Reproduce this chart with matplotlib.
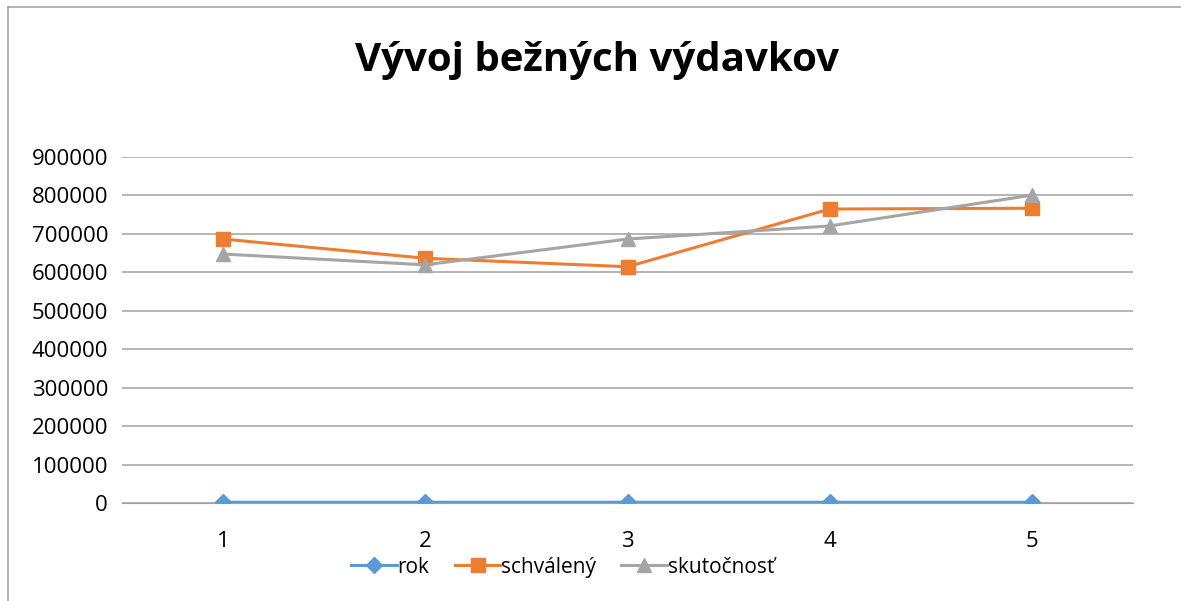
import matplotlib.pyplot as plt
from matplotlib.lines import Line2D

# data
kategorie = [1, 2, 3, 4, 5]
rok = [2010, 2011, 2012, 2013, 2014]
schvaleny = [686000, 636000, 614000, 764000, 766000]
skutocnost = [647000, 619000, 686000, 720000, 800000]
y_ticks = list(range(0, 900001, 100000))

plt.rcParams['font.family'] = ['Open Sans', 'DejaVu Sans']

W, H = 1181, 601
fig = plt.figure(figsize=(W / 100, H / 100), dpi=100)
ax = fig.add_axes([122 / W, 1 - 503 / H, (1133 - 122) / W, (503 - 156.7) / H])

ax.plot(kategorie, rok, color='#5B9BD5', lw=2.2, marker='D', ms=8, label='rok', zorder=3)
ax.plot(kategorie, schvaleny, color='#ED7D31', lw=2.2, marker='s', ms=10, label='schválený', zorder=3)
ax.plot(kategorie, skutocnost, color='#A5A5A5', lw=2.2, marker='^', ms=10, label='skutočnosť', zorder=3)

ax.set_xlim(0.5, 5.5)
ax.set_ylim(0, 900000)
ax.set_xticks(kategorie)
ax.set_yticks(y_ticks)
ax.set_yticklabels([str(v) for v in y_ticks])
ax.grid(axis='y', color='#A0A0A0', lw=1.1)
ax.set_axisbelow(True)
for s in ['top', 'right', 'left']:
    ax.spines[s].set_visible(False)
ax.spines['bottom'].set_color('#A0A0A0')
ax.tick_params(length=0, labelsize=16, colors='black')
ax.tick_params(axis='y', pad=10)
ax.tick_params(axis='x', pad=20)

fig.text(597 / W, 1 - 60 / H, 'Vývoj bežných výdavkov', ha='center', va='center',
         fontsize=29, fontweight='bold')

ax.legend(loc='center', bbox_to_anchor=(0.436, -0.185), ncol=3, frameon=False,
          fontsize=15, handlelength=2.2, handletextpad=0.05, columnspacing=1.2)

# chart border (cropped at right and bottom)
fig.add_artist(Line2D([8 / W, 8 / W], [0, 1 - 7 / H], color='#A6A6A6', lw=1.2))
fig.add_artist(Line2D([8 / W, 1], [1 - 7 / H, 1 - 7 / H], color='#A6A6A6', lw=1.2))

fig.savefig('out.png', dpi=100)
